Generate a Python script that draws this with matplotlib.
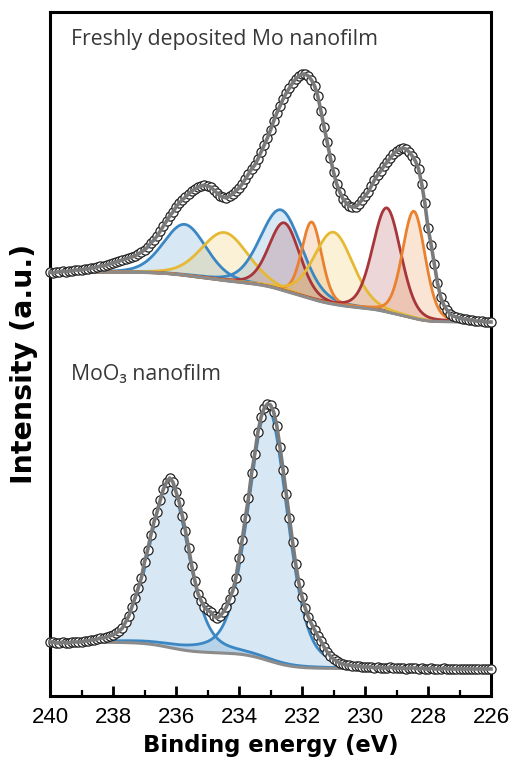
import numpy as np
import matplotlib.pyplot as plt

# energi pengukuran, langkah 0.1 eV dari 240 ke 226
energi = np.linspace(240, 226, 141)

# data terukur (a.u.) - Mo nanofilm baru dideposisi
mo_data = [424, 423, 424, 424, 425, 424, 425, 425, 426, 426, 426,
           427, 427, 428, 428, 429, 430, 430, 431, 432, 433,
           434, 435, 436, 437, 438, 439, 440, 442, 444, 446,
           449, 453, 456, 460, 465, 470, 475, 480, 484, 489,
           493, 496, 499, 502, 505, 507, 509, 510, 511, 510,
           509, 506, 503, 500, 499, 498, 500, 502, 505, 508,
           512, 517, 522, 527, 531, 537, 544, 551, 558, 566,
           575, 583, 590, 597, 603, 608, 613, 617, 620, 622,
           622, 620, 616, 610, 600, 585, 569, 554, 538, 524,
           512, 504, 497, 493, 490, 489, 489, 492, 496, 500,
           504, 510, 516, 521, 525, 530, 534, 538, 542, 545,
           547, 548, 547, 544, 540, 535, 527, 512, 493, 468,
           451, 432, 413, 399, 391, 386, 382, 380, 379, 378,
           377, 377, 376, 376, 375, 375, 375, 374, 374, 374]

# data terukur (a.u.) - MoO3 nanofilm
moo3_data = [54, 54, 53, 53, 54, 53, 53, 54, 54, 54, 54,
             55, 55, 56, 56, 57, 58, 58, 59, 60, 61,
             63, 65, 68, 74, 80, 89, 98, 108, 118, 134,
             146, 161, 174, 184, 196, 207, 214, 218, 214, 204,
             194, 180, 165, 148, 130, 115, 102, 95, 89, 86,
             84, 80, 78, 80, 84, 89, 97, 105, 118, 138,
             156, 178, 198, 223, 242, 264, 279, 288, 292, 291,
             284, 270, 249, 226, 202, 178, 154, 132, 113, 99,
             88, 79, 72, 66, 60, 55, 49, 44, 40, 37,
             35, 33, 32, 31, 31, 30, 30, 30, 29, 29,
             29, 29, 28, 29, 28, 28, 28, 29, 28, 28,
             28, 28, 27, 28, 28, 28, 27, 28, 27, 27,
             28, 27, 27, 27, 28, 27, 27, 27, 27, 27,
             27, 27, 27, 27, 27, 27, 27, 27, 27, 27]

# parameter komponen fit Mo (pusat eV, tinggi, fwhm)
mo_pusat = [235.72, 234.46, 232.66, 232.56, 231.69, 231.0, 229.31, 228.45]
mo_tinggi = [51, 48, 80, 68, 77, 72, 104, 107]
mo_fwhm = [1.6, 1.75, 1.55, 1.15, 0.75, 1.45, 1.05, 0.85]
mo_warna = ['#3b87c4', '#e6b935', '#3b87c4', '#a8353a', '#e9812f', '#e6b935', '#a8353a', '#e9812f']
mo_ujung = [424, 374]

# parameter komponen fit MoO3
moo3_pusat = [236.22, 233.08]
moo3_tinggi = [165, 253]
moo3_fwhm = [1.45, 1.45]
moo3_ujung = [54, 27]


def pseudo_voigt(x, pusat, tinggi, fwhm, eta):
    u = (x - pusat) / fwhm
    g = np.exp(-4 * np.log(2) * u ** 2)
    l = 1 / (1 + 4 * u ** 2)
    return tinggi * (eta * l + (1 - eta) * g)


def shirley(total, kiri, kanan):
    # luas kumulatif dari sisi energi rendah
    kum = np.cumsum(total[::-1])[::-1]
    return kanan + (kiri - kanan) * kum / kum[0]


x_halus = np.linspace(240, 226, 1401)

fig = plt.figure(figsize=(5.14, 7.71), dpi=100)
ax = fig.add_axes([0.0973, 0.0973, 0.858, 0.8871])


def gambar_spektrum(data, pusat, tinggi, fwhm, warna, ujung, eta):
    komponen = [pseudo_voigt(x_halus, p, t, w, eta) for p, t, w in zip(pusat, tinggi, fwhm)]
    latar = shirley(np.sum(komponen, axis=0), ujung[0], ujung[1])
    for k, c in zip(komponen, warna):
        ax.fill_between(x_halus, latar, latar + k, color=c, alpha=0.2, lw=0, zorder=1)
        ax.plot(x_halus, latar + k, color=c, lw=2, zorder=2)
    ax.plot(x_halus, latar, color='#8c8c8c', lw=2.2, zorder=2.5)
    ax.plot(energi, data, 'o', ms=6.6, mfc='white', mec='#222222', mew=0.9,
            zorder=3, clip_on=False)
    ax.plot(energi, data, color='#7a7a7a', lw=2.6, zorder=4, clip_on=False)


gambar_spektrum(mo_data, mo_pusat, mo_tinggi, mo_fwhm, mo_warna, mo_ujung, 0.2)
gambar_spektrum(moo3_data, moo3_pusat, moo3_tinggi, moo3_fwhm, ['#3b87c4'] * 2, moo3_ujung, 0.3)

ax.set_xlim(240, 226)
ax.set_ylim(0, 684)
ax.set_xticks(np.arange(240, 225, -2))
ax.set_xticks(np.arange(239, 226, -2), minor=True)
ax.set_yticks([])
ax.tick_params(axis='x', which='major', direction='in', length=7, width=2, pad=8,
               labelsize=16)
ax.tick_params(axis='x', which='minor', direction='in', length=4, width=1.6)
for lab in ax.get_xticklabels():
    lab.set_family('Liberation Sans')
for s in ax.spines.values():
    s.set_linewidth(2.2)

ax.set_xlabel('Binding energy (eV)', family='DejaVu Sans', fontsize=16.3,
              fontweight='bold', labelpad=4)
ax.set_ylabel('Intensity (a.u.)', family='DejaVu Sans', fontsize=20.5,
              fontweight='bold')
ax.yaxis.set_label_coords(-0.027, 0.485)

ax.text(0.047, 0.952, 'Freshly deposited Mo nanofilm', transform=ax.transAxes,
        fontsize=15.3, family=['Open Sans', 'DejaVu Sans'], color='#383838', va='baseline')
ax.text(0.047, 0.462, 'MoO\u2083 nanofilm', transform=ax.transAxes,
        fontsize=15.3, family=['Open Sans', 'DejaVu Sans'], color='#383838', va='baseline')

fig.savefig('out.png', dpi=100)
